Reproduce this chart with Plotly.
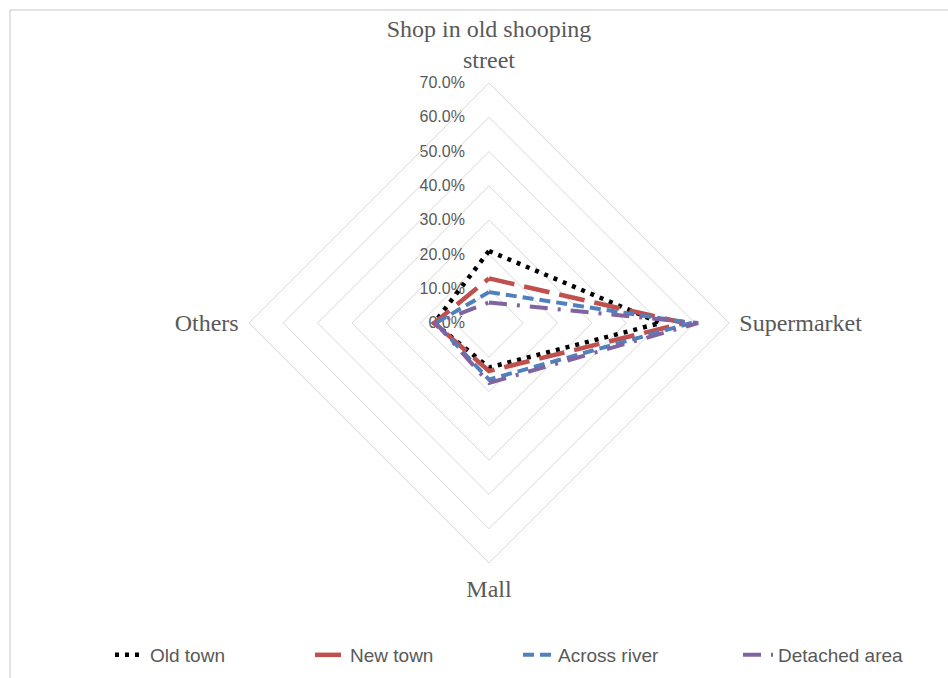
import plotly.graph_objects as go

# Shopping destination shares by residential area
categories = ["Shop in old shooping<br>street", "Supermarket", "Mall", "Others"]
series_names = ["Old town", "New town", "Across river", "Detached area"]
old_town = [0.21, 0.50, 0.13, 0.16]
new_town = [0.13, 0.57, 0.14, 0.16]
across_river = [0.09, 0.59, 0.165, 0.155]
detached_area = [0.06, 0.61, 0.175, 0.155]

series_values = [old_town, new_town, across_river, detached_area]
line_styles = [
    dict(color="#000000", width=4.5, dash="4px,6px"),
    dict(color="#C0504D", width=4.5, dash="26px,10px"),
    dict(color="#4F81BD", width=4, dash="11px,6px"),
    dict(color="#8064A2", width=4, dash="18px,10px,3px,10px"),
]
legend_ids = ["legend", "legend2", "legend3", "legend4"]
legend_x = [110, 310, 518, 738]

W, H = 948, 678
GRAY = "#595959"

fig = go.Figure()
for name, vals, style, lid in zip(series_names, series_values, line_styles, legend_ids):
    fig.add_trace(go.Scatterpolar(
        r=vals + vals[:1],
        theta=categories + categories[:1],
        mode="lines",
        name=name,
        line=style,
        legend=lid,
        showlegend=True,
    ))

# polar area: center (489, 323) px, 70% ring at 240 px
cx, cy, R = 489, 323, 240
fig.update_layout(
    width=W, height=H,
    showlegend=True,
    margin=dict(l=0, r=0, t=0, b=0),
    paper_bgcolor="white",
    plot_bgcolor="white",
    polar=dict(
        domain=dict(x=[(cx - R) / W, (cx + R) / W],
                    y=[(H - cy - R) / H, (H - cy + R) / H]),
        gridshape="linear",
        bgcolor="white",
        radialaxis=dict(
            range=[0, 0.7], dtick=0.1, tick0=0, tickformat=".1%",
            angle=90, side="counterclockwise", tickangle=90,
            showline=False, ticks="outside", ticklen=18, tickcolor="rgba(0,0,0,0)",
            gridcolor="#d9d9d9", gridwidth=1,
            tickfont=dict(family="Liberation Sans", size=16, color=GRAY),
            layer="below traces",
        ),
        angularaxis=dict(
            type="category", categoryarray=categories,
            rotation=90, direction="clockwise",
            showgrid=False, showline=True, linecolor="#d9d9d9", linewidth=1,
            ticks="outside", ticklen=5, tickcolor="rgba(0,0,0,0)",
            tickfont=dict(family="Liberation Serif, Times New Roman, serif", size=24, color=GRAY),
        ),
    ),
    shapes=[dict(type="rect", xref="paper", yref="paper",
                 x0=10 / W, x1=1.02, y0=-0.02, y1=(H - 10) / H,
                 line=dict(color="#d9d9d9", width=1.5), fillcolor="rgba(0,0,0,0)")],
)

for lid, lx in zip(legend_ids, legend_x):
    fig.update_layout({lid: dict(
        x=lx / W, xanchor="left", y=(H - 655) / H, yanchor="middle",
        orientation="h", bgcolor="rgba(0,0,0,0)", borderwidth=0,
        font=dict(family="Liberation Sans", size=19, color=GRAY),
    )})

fig.write_html("out.html")
